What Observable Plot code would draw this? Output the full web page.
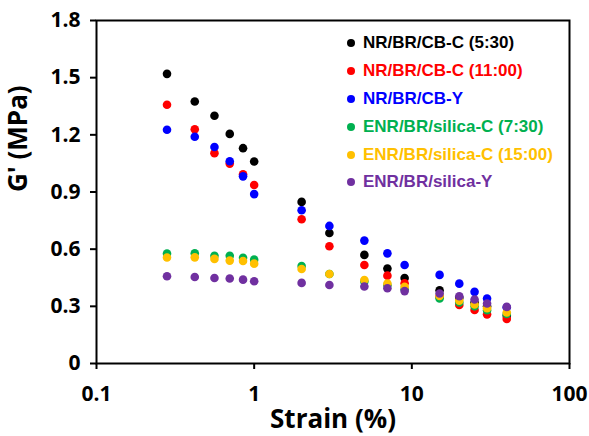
<!DOCTYPE html>
<html>
<head>
<meta charset="utf-8">
<script src="https://cdn.jsdelivr.net/npm/d3@7"></script>
<script src="https://cdn.jsdelivr.net/npm/@observablehq/plot@0.6"></script>
<style>
  html, body { margin: 0; padding: 0; background: #fff; }
  #wrap { position: relative; width: 589px; height: 436px; }
  #legend { position: absolute; left: 347px; top: 29.5px; font-family: "Liberation Sans", Arial, sans-serif; font-weight: bold; font-size: 17px; }
  .row { height: 27.8px; display: flex; align-items: center; white-space: nowrap; }
  .sw { width: 8px; height: 8px; border-radius: 50%; margin-right: 8px; flex: none; }
</style>
</head>
<body>
<div id="wrap"><div id="legend"></div></div>
<script>
const strain = [0.28, 0.42, 0.56, 0.7, 0.85, 1.0, 2, 3, 5, 7, 9, 15, 20, 25, 30, 40];
const seriesNames = ["NR/BR/CB-C (5:30)", "NR/BR/CB-C (11:00)", "NR/BR/CB-Y", "ENR/BR/silica-C (7:30)", "ENR/BR/silica-C (15:00)", "ENR/BR/silica-Y"];
const seriesColors = ["#000000", "#FF0000", "#0000FF", "#00B050", "#FFC000", "#7030A0"];
const nrCbC530 = [1.52, 1.375, 1.30, 1.205, 1.13, 1.06, 0.848, 0.685, 0.57, 0.498, 0.449, 0.384, 0.345, 0.32, 0.30, 0.25];
const nrCbC1100 = [1.358, 1.229, 1.104, 1.049, 0.993, 0.937, 0.757, 0.615, 0.517, 0.461, 0.421, 0.35, 0.307, 0.281, 0.258, 0.234];
const nrCbY = [1.227, 1.19, 1.136, 1.061, 0.982, 0.889, 0.804, 0.722, 0.645, 0.578, 0.517, 0.465, 0.419, 0.376, 0.341, 0.295];
const enrSiC730 = [0.577, 0.578, 0.565, 0.565, 0.555, 0.545, 0.512, 0.47, 0.43, 0.41, 0.39, 0.341, 0.32, 0.30, 0.28, 0.26];
const enrSiC1500 = [0.556, 0.557, 0.549, 0.540, 0.538, 0.524, 0.496, 0.470, 0.438, 0.419, 0.403, 0.355, 0.33, 0.31, 0.29, 0.268];
const enrSiY = [0.458, 0.454, 0.449, 0.446, 0.440, 0.432, 0.423, 0.412, 0.404, 0.395, 0.380, 0.367, 0.353, 0.336, 0.315, 0.297];
const xTicks = [0.1, 1, 10, 100];
const yTicks = [0, 0.3, 0.6, 0.9, 1.2, 1.5, 1.8];
const xTitle = "Strain (%)";
const yTitle = "G' (MPa)";

const allSeries = [nrCbC530, nrCbC1100, nrCbY, enrSiC730, enrSiC1500, enrSiY];
const data = [];
allSeries.forEach((vals, i) => vals.forEach((v, j) => data.push({series: seriesNames[i], strain: strain[j], g: v})));

const tickFont = {fontSize: 21, fontWeight: "bold", fill: "black"};
const chart = Plot.plot({
  width: 589, height: 436,
  marginLeft: 96, marginRight: 20, marginTop: 20, marginBottom: 73,
  style: {fontFamily: "'Open Sans', sans-serif", background: "white"},
  x: {type: "log", domain: [0.1, 100]},
  y: {domain: [0, 1.8]},
  color: {domain: seriesNames, range: seriesColors},
  marks: [
    Plot.axisX({ticks: xTicks, tickFormat: d => String(d), tickSize: 6, tickPadding: 17, strokeWidth: 2, label: null, ...tickFont}),
    Plot.axisY({ticks: yTicks, tickFormat: d => d === 0 ? "0" : d.toFixed(1), tickSize: 6, tickPadding: 10, strokeWidth: 2, label: null, ...tickFont}),
    Plot.frame({stroke: "black", strokeWidth: 2}),
    Plot.dot(data, {x: "strain", y: "g", fill: "series", r: 4.3}),
    Plot.text([xTitle], {frameAnchor: "bottom", text: d => d, dy: 64, fontSize: 26, fontWeight: "bold", fill: "black"}),
    Plot.text([yTitle], {frameAnchor: "left", text: d => d, rotate: -90, dx: -78, fontSize: 26, fontWeight: "bold", fill: "black"})
  ]
});
document.getElementById("wrap").prepend(chart);

const legend = document.getElementById("legend");
seriesNames.forEach((name, i) => {
  const row = document.createElement("div");
  row.className = "row";
  row.style.color = seriesColors[i];
  const sw = document.createElement("span");
  sw.className = "sw";
  sw.style.background = seriesColors[i];
  row.appendChild(sw);
  row.appendChild(document.createTextNode(name));
  legend.appendChild(row);
});
</script>
</body>
</html>
